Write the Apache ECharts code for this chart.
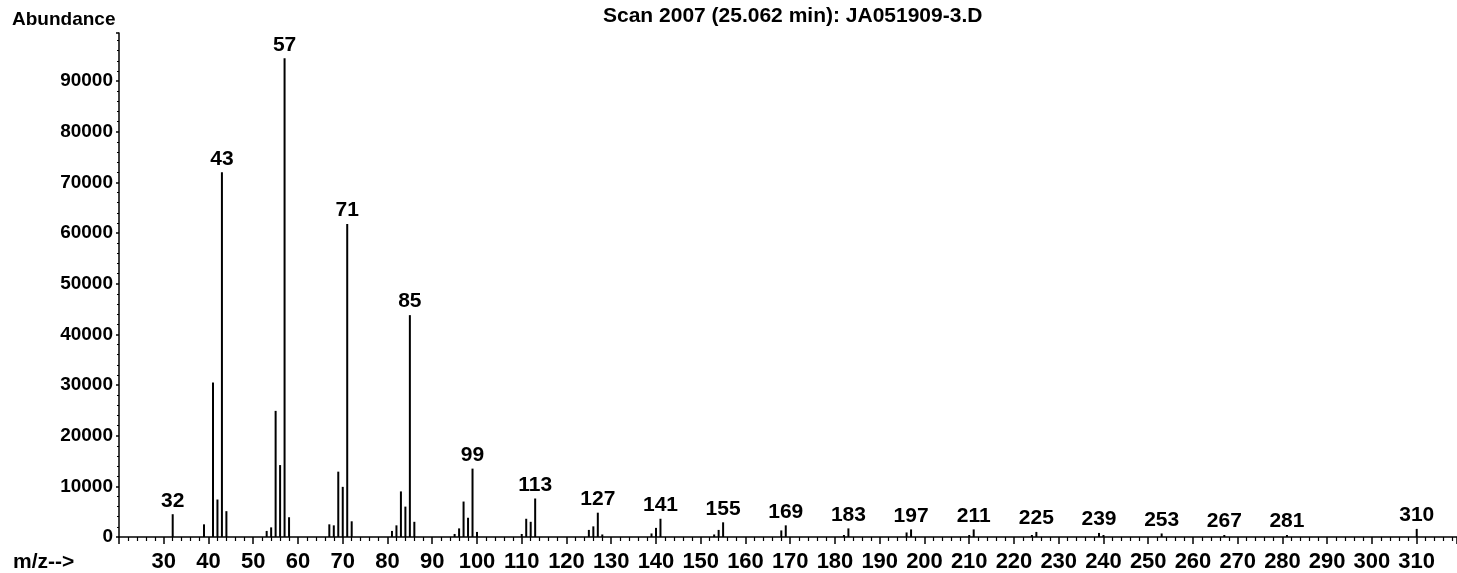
<!DOCTYPE html>
<html>
<head>
<meta charset="utf-8">
<script src="https://cdn.jsdelivr.net/npm/echarts@6/dist/echarts.min.js"></script>
<style>
html,body{margin:0;padding:0;background:#fff;}
#c{width:1457px;height:573px;}
</style>
</head>
<body>
<div id="c"></div>
<script>
// m/z values and their abundances
var mzValues = [32, 39, 41, 42, 43, 44, 53, 54, 55, 56, 57, 58,
  67, 68, 69, 70, 71, 72, 81, 82, 83, 84, 85, 86,
  95, 96, 97, 98, 99, 100, 110, 111, 112, 113,
  125, 126, 127, 128, 139, 140, 141, 153, 154, 155,
  168, 169, 182, 183, 196, 197, 210, 211, 224, 225, 239, 240, 253, 267, 281, 310];
var abundances = [4500, 2500, 30500, 7400, 72000, 5100, 1200, 1900, 24900, 14200, 94500, 3900,
  2500, 2300, 12900, 9900, 61800, 3100, 1200, 2300, 9000, 6000, 43800, 3000,
  600, 1700, 7000, 3800, 13500, 1000, 600, 3600, 3000, 7600,
  1400, 2100, 4800, 500, 700, 1800, 3600, 500, 1400, 2900,
  1300, 2300, 400, 1700, 900, 1500, 400, 1500, 400, 1000, 800, 400, 700, 400, 400, 1600];
var labeledPeaks = [32, 43, 57, 71, 85, 99, 113, 127, 141, 155, 169, 183, 197, 211, 225, 239, 253, 267, 281, 310];
var xTickLabels = [30, 40, 50, 60, 70, 80, 90, 100, 110, 120, 130, 140, 150, 160, 170, 180, 190, 200, 210, 220, 230, 240, 250, 260, 270, 280, 290, 300, 310];
var yTickLabels = [0, 10000, 20000, 30000, 40000, 50000, 60000, 70000, 80000, 90000];
var titleText = 'Scan 2007 (25.062 min): JA051909-3.D';

var FONT = '"Liberation Sans", Arial, sans-serif';
var barData = mzValues.map(function (m, i) {
  var item = { value: [m, abundances[i]] };
  if (labeledPeaks.indexOf(m) >= 0) {
    item.label = { show: true };
  }
  return item;
});

var chart = echarts.init(document.getElementById('c'), null, { renderer: 'canvas' });
chart.setOption({
  animation: false,
  backgroundColor: '#fff',
  grid: { left: 119, right: 0, top: 33, bottom: 35, containLabel: false },
  xAxis: {
    type: 'value', min: 20, max: 319, interval: 10,
    axisLine: { show: true, onZero: false, lineStyle: { color: '#000', width: 1.5 } },
    axisTick: { show: true, inside: false, length: 7, lineStyle: { color: '#000', width: 1.5 } },
    minorTick: { show: true, splitNumber: 5, length: 4, lineStyle: { color: '#000', width: 1.2 } },
    splitLine: { show: false },
    axisLabel: {
      showMaxLabel: false, showMinLabel: false, margin: 14,
      color: '#000', fontFamily: FONT, fontWeight: 'bold', fontSize: 22,
      formatter: function (v) { return xTickLabels.indexOf(v) >= 0 ? String(v) : ''; }
    }
  },
  yAxis: {
    type: 'value', min: 0, max: 99500, interval: 10000,
    axisLine: { show: true, lineStyle: { color: '#000', width: 1.5 } },
    axisTick: { show: true, length: 3, lineStyle: { color: '#000', width: 1.5 } },
    minorTick: { show: true, splitNumber: 5, length: 2, lineStyle: { color: '#000', width: 1 } },
    splitLine: { show: false },
    axisLabel: {
      showMaxLabel: false, margin: 6,
      color: '#000', fontFamily: FONT, fontWeight: 'bold', fontSize: 19,
      formatter: function (v) { return yTickLabels.indexOf(v) >= 0 ? String(v) : ''; }
    }
  },
  graphic: [
    { type: 'text', left: 12, top: 10, style: { text: 'Abundance', fill: '#000', font: 'bold 19px ' + FONT } },
    { type: 'text', left: 13, top: 552, style: { text: 'm/z-->', fill: '#000', font: 'bold 21px ' + FONT } },
    { type: 'text', left: 603, top: 6, style: { text: titleText, fill: '#000', font: 'bold 21px ' + FONT } }
  ],
  series: [{
    type: 'bar',
    barWidth: 2,
    itemStyle: { color: '#000' },
    label: {
      show: false, position: 'top', distance: 3,
      color: '#000', fontFamily: FONT, fontWeight: 'bold', fontSize: 21,
      formatter: function (p) { return String(p.value[0]); }
    },
    data: barData
  }]
});
</script>
</body>
</html>
